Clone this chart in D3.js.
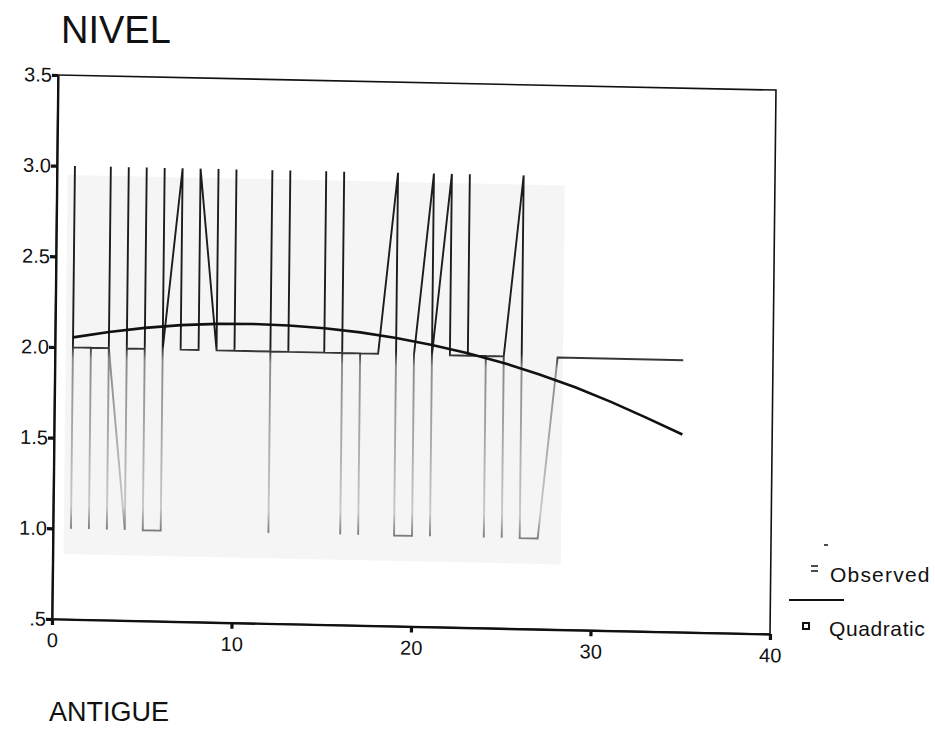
<!DOCTYPE html>
<html>
<head>
<meta charset="utf-8">
<script src="https://cdn.jsdelivr.net/npm/d3@7"></script>
<style>
  body { margin: 0; background: #fff; }
  svg { font-family: "Liberation Sans", Arial, sans-serif; }
</style>
</head>
<body>
<div id="chart"></div>
<script>
// observed NIVEL by ANTIGUE, in the order the line is drawn
const obsX = [1,1,1,2,2,2,3,3,3,3,4,4,4,5,5,5,6,6,6,7,7,8,8,9,9,9,10,10,10,12,12,12,12,13,13,13,15,15,15,16,16,16,16,17,17,17,18,19,19,20,20,21,21,21,22,22,23,23,23,24,24,24,25,25,25,26,26,27,28,35];
const obsY = [1,3,2,2,1,2,2,1,3,2,1,3,2,2,3,1,1,3,2,3,2,2,3,2,3,2,2,3,2,2,3,1,2,2,3,2,2,3,2,2,3,1,2,2,1,2,2,3,1,1,2,3,1,2,3,2,2,3,2,2,1,2,2,1,2,3,1,1,2,2];

// quadratic fit
const fitX = [1,3,5,7,9,11,13,15,17,19,21,23,25,27,29,31,33,35];
const fitY = [2.055,2.089,2.116,2.135,2.146,2.150,2.146,2.135,2.116,2.089,2.055,2.013,1.964,1.905,1.838,1.762,1.678,1.590];

const xTicks = [0,10,20,30,40];
const yTicks = [3.5,3.0,2.5,2.0,1.5,1.0,0.5];
const yTickLabels = ["3.5","3.0","2.5","2.0","1.5","1.0",".5"];

const width = 935, height = 731;
const margin = {top: 75, right: 165, bottom: 112, left: 52};

const svg = d3.select("#chart").append("svg")
    .attr("width", width)
    .attr("height", height);

const x = d3.scaleLinear().domain([0, 40]).range([margin.left, width - margin.right]);
const y = d3.scaleLinear().domain([0.5, 3.5]).range([height - margin.bottom, margin.top]);

// the scanned page is a little skewed: horizontals drop to the right, verticals lean right
const sh = 0.021, sv = -0.011;
const ox = x(0), oy = y(0.5);
const plot = svg.append("g")
    .attr("transform", `matrix(1,${sh},${sv},1,${-sv * oy},${-sh * ox})`);

// grey scan patch behind the lines
plot.append("rect")
    .attr("x", x(0.6)).attr("y", y(2.95))
    .attr("width", x(28.3) - x(0.6))
    .attr("height", y(0.86) - y(2.95))
    .attr("fill", "#f5f5f5");

// faded lower half of the observed line
const grad = svg.append("defs").append("linearGradient")
    .attr("id", "fade")
    .attr("gradientUnits", "userSpaceOnUse")
    .attr("x1", 0).attr("x2", 0)
    .attr("y1", y(2.02)).attr("y2", y(0.97));
grad.append("stop").attr("offset", 0).attr("stop-color", "#1c1c1c");
grad.append("stop").attr("offset", 0.08).attr("stop-color", "#8a8a8a");
grad.append("stop").attr("offset", 0.85).attr("stop-color", "#c8c8c8");
grad.append("stop").attr("offset", 1).attr("stop-color", "#6a6a6a");

const obs = obsX.map((d, i) => [d, obsY[i]]);
plot.append("path")
    .datum(obs)
    .attr("fill", "none")
    .attr("stroke", "url(#fade)")
    .attr("stroke-width", 1.9)
    .attr("d", d3.line().x(d => x(d[0])).y(d => y(d[1])));

const fit = fitX.map((d, i) => [d, fitY[i]]);
plot.append("path")
    .datum(fit)
    .attr("fill", "none")
    .attr("stroke", "#111")
    .attr("stroke-width", 2.6)
    .attr("d", d3.line().x(d => x(d[0])).y(d => y(d[1])));

// frame
plot.append("rect")
    .attr("x", x(0)).attr("y", y(3.5))
    .attr("width", x(40) - x(0))
    .attr("height", y(0.5) - y(3.5))
    .attr("fill", "none")
    .attr("stroke", "#111")
    .attr("stroke-width", 1.6);

// axes
const yAxis = plot.append("g")
    .attr("transform", `translate(${x(0)},0)`)
    .call(d3.axisLeft(y).tickValues(yTicks)
        .tickFormat((d, i) => yTickLabels[i])
        .tickSize(6).tickPadding(0).tickSizeOuter(0));

const xAxis = plot.append("g")
    .attr("transform", `translate(0,${y(0.5)})`)
    .call(d3.axisBottom(x).tickValues(xTicks)
        .tickSize(6).tickPadding(8).tickSizeOuter(0));

[yAxis, xAxis].forEach(g => {
  g.select(".domain").attr("stroke", "#111").attr("stroke-width", 2.2);
  g.selectAll(".tick line").attr("stroke", "#111").attr("stroke-width", 3.2);
  g.selectAll(".tick text")
      .attr("fill", "#111")
      .style("font-size", "20px")
      .style("font-family", "'Liberation Sans', Arial, sans-serif");
});

// titles
svg.append("text")
    .attr("x", 61).attr("y", 43)
    .attr("fill", "#111")
    .style("font-size", "38px")
    .text("NIVEL");

svg.append("text")
    .attr("x", 49).attr("y", 721)
    .attr("fill", "#111")
    .style("font-size", "27px")
    .text("ANTIGUE");

// legend
const leg = svg.append("g").attr("fill", "#111").attr("stroke", "#111");
leg.append("line").attr("x1", 824).attr("x2", 828).attr("y1", 545).attr("y2", 545).attr("stroke-width", 1.5);
leg.append("line").attr("x1", 811).attr("x2", 818).attr("y1", 566).attr("y2", 566).attr("stroke-width", 1.5);
leg.append("line").attr("x1", 811).attr("x2", 818).attr("y1", 571).attr("y2", 571).attr("stroke-width", 1.5);
leg.append("line").attr("x1", 789).attr("x2", 844).attr("y1", 600).attr("y2", 600).attr("stroke-width", 2);
leg.append("rect").attr("x", 803).attr("y", 623).attr("width", 6).attr("height", 6)
    .attr("fill", "none").attr("stroke-width", 2);
leg.append("text").attr("x", 830).attr("y", 582).attr("stroke", "none")
    .style("font-size", "21px").style("letter-spacing", "1.2px").text("Observed");
leg.append("text").attr("x", 829).attr("y", 636).attr("stroke", "none")
    .style("font-size", "21px").style("letter-spacing", "0.6px").text("Quadratic");
</script>
</body>
</html>
